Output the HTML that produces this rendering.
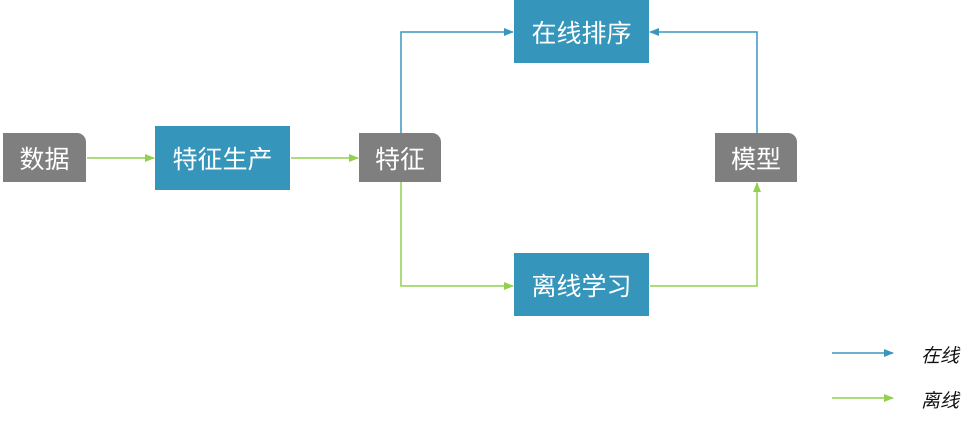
<!DOCTYPE html>
<html><head><meta charset="utf-8"><style>
body{margin:0;width:975px;height:423px;background:#fff;overflow:hidden;position:relative;font-family:"Liberation Sans","Noto Sans CJK SC",sans-serif}
.b{position:absolute;color:#fff;display:flex;align-items:center;justify-content:center;font-size:25px}
.g{background:#7f7f7f;border-top-right-radius:9px}
.t{background:#3595bb}
.l{position:absolute;font-size:19px;font-style:italic;color:#111}
</style></head><body>
<svg width="975" height="423" style="position:absolute;left:0;top:0">
<defs>
<marker id="ag" markerWidth="10" markerHeight="10" refX="9" refY="5" orient="auto" markerUnits="userSpaceOnUse"><path d="M0,1 L10,5 L0,9z" fill="#92d050"/></marker>
<marker id="ab" markerWidth="10" markerHeight="10" refX="9" refY="5" orient="auto" markerUnits="userSpaceOnUse"><path d="M0,1 L10,5 L0,9z" fill="#3a96bd"/></marker>
</defs>
<g fill="none" stroke-width="1.5">
<path d="M87,158 H154" stroke="#92d050" marker-end="url(#ag)"/>
<path d="M291,158 H358" stroke="#92d050" marker-end="url(#ag)"/>
<path d="M401,182 V286 H513" stroke="#92d050" marker-end="url(#ag)"/>
<path d="M650,286 H757 V183" stroke="#92d050" marker-end="url(#ag)"/>
<path d="M401,133 V32 H513" stroke="#3a96bd" marker-end="url(#ab)"/>
<path d="M757,145 V32 H650" stroke="#3a96bd" marker-end="url(#ab)"/>
<path d="M832,353 H893" stroke="#3a96bd" marker-end="url(#ab)"/>
<path d="M832,398 H893" stroke="#92d050" marker-end="url(#ag)"/>
</g></svg>
<div class="b g" style="left:3px;top:133px;width:83px;height:49px">数据</div>
<div class="b t" style="left:155px;top:126px;width:135px;height:64px">特征生产</div>
<div class="b g" style="left:359px;top:133px;width:82px;height:49px">特征</div>
<div class="b t" style="left:514px;top:0;width:135px;height:63px">在线排序</div>
<div class="b t" style="left:514px;top:253px;width:135px;height:63px">离线学习</div>
<div class="b g" style="left:715px;top:133px;width:82px;height:49px">模型</div>
<div class="l" style="left:921px;top:341px">在线</div>
<div class="l" style="left:921px;top:386px">离线</div>
</body></html>
